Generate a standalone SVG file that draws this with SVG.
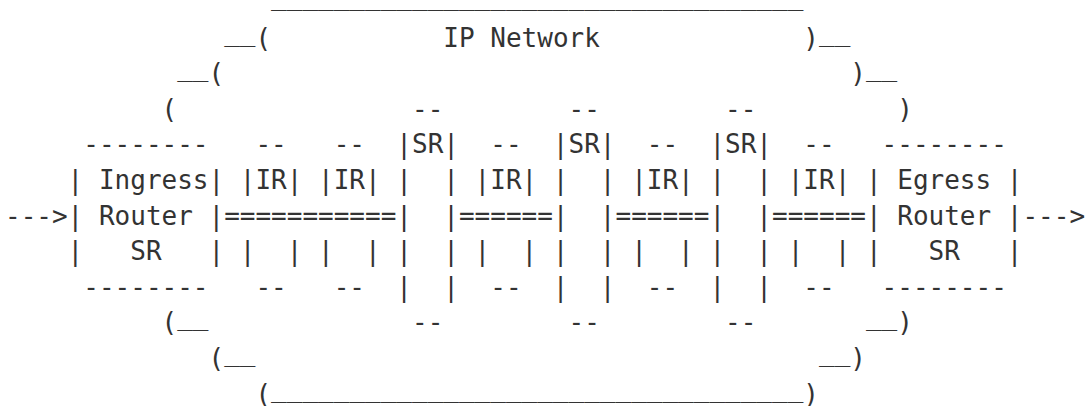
<svg xmlns="http://www.w3.org/2000/svg" width="1085" height="406" viewBox="0 0 1085 406">
<style>
.t{font-family:"DejaVu Sans Mono","Liberation Mono",monospace;font-size:26px;fill:#333;white-space:pre}
</style>
<rect width="1085" height="406" fill="#fff"/>
<g id="cloud">
<text class="t" xml:space="preserve" x="5" y="5">                 __________________________________</text>
<text class="t" xml:space="preserve" x="5" y="46.6">              <tspan dy="-6">__</tspan><tspan dy="6">(           IP Network             )</tspan><tspan dy="-6">__</tspan></text>
<text class="t" xml:space="preserve" x="5" y="82.2">           <tspan dy="-6">__</tspan><tspan dy="6">(                                        )</tspan><tspan dy="-6">__</tspan></text>
<text class="t" xml:space="preserve" x="5" y="117.8">          (               --        --        --         )</text>
</g>
<g id="routers">
<text class="t" xml:space="preserve" x="5" y="153.4">     --------   --   --  |SR|  --  |SR|  --  |SR|  --   --------</text>
<text class="t" xml:space="preserve" x="5" y="189">    | Ingress| |IR| |IR| |  | |IR| |  | |IR| |  | |IR| | Egress |</text>
<text class="t" xml:space="preserve" x="5" y="224.6">---&gt;| Router |===========|  |======|  |======|  |======| Router |---&gt;</text>
<text class="t" xml:space="preserve" x="5" y="260.2">    |   SR   | |  | |  | |  | |  | |  | |  | |  | |  | |   SR   |</text>
<text class="t" xml:space="preserve" x="5" y="295.8">     --------   --   --  |  |  --  |  |  --  |  |  --   --------</text>
</g>
<g id="cloud-bottom">
<text class="t" xml:space="preserve" x="5" y="331.4">          (<tspan dy="-6">__</tspan><tspan dy="6">             --        --        --       </tspan><tspan dy="-6">__</tspan><tspan dy="6">)</tspan></text>
<text class="t" xml:space="preserve" x="5" y="367">             (<tspan dy="-6">__</tspan><tspan dy="6">                                    </tspan><tspan dy="-6">__</tspan><tspan dy="6">)</tspan></text>
<text class="t" xml:space="preserve" x="5" y="402.6">                (<tspan dy="-6">__________________________________</tspan><tspan dy="6">)</tspan></text>
</g>
</svg>
